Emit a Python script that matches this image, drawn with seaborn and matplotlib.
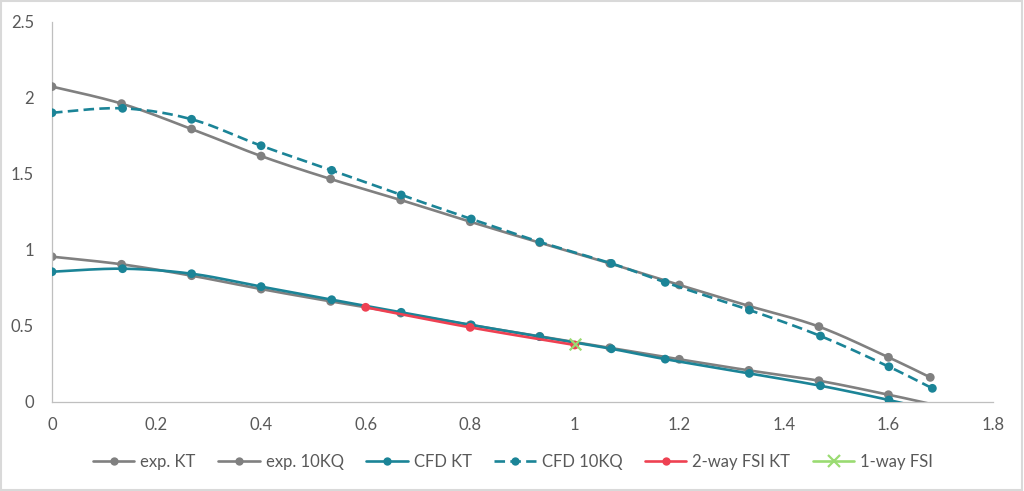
import numpy as np
import pandas as pd
import matplotlib
matplotlib.use("Agg")
import matplotlib.pyplot as plt
from matplotlib.lines import Line2D
from matplotlib.patches import Rectangle
import seaborn as sns

# ---- data ----
x_exp = [0, 0.133, 0.267, 0.4, 0.533, 0.667, 0.8, 0.933, 1.067, 1.2, 1.333, 1.467, 1.6, 1.68]
exp_kt = [0.956, 0.906, 0.831, 0.743, 0.662, 0.585, 0.507, 0.432, 0.357, 0.281, 0.208, 0.140, 0.048, -0.012]
exp_10kq = [2.075, 1.963, 1.796, 1.618, 1.467, 1.329, 1.186, 1.048, 0.912, 0.770, 0.632, 0.496, 0.294, 0.162]

x_cfd = [0, 0.135, 0.267, 0.4, 0.535, 0.668, 0.802, 0.933, 1.07, 1.173, 1.334, 1.47, 1.601, 1.684]
cfd_kt = [0.857, 0.877, 0.844, 0.759, 0.673, 0.590, 0.507, 0.430, 0.350, 0.282, 0.188, 0.107, 0.013, -0.055]
cfd_10kq = [1.903, 1.932, 1.860, 1.686, 1.524, 1.362, 1.204, 1.053, 0.912, 0.787, 0.605, 0.434, 0.232, 0.090]

x_fsi2 = [0.6, 0.8, 1.0]
fsi2_kt = [0.623, 0.491, 0.375]

x_fsi1 = [1.0]
fsi1_kt = [0.379]

x_ticks = [0, 0.2, 0.4, 0.6, 0.8, 1, 1.2, 1.4, 1.6, 1.8]
x_ticklabels = ["0", "0.2", "0.4", "0.6", "0.8", "1", "1.2", "1.4", "1.6", "1.8"]
y_ticks = [0, 0.5, 1, 1.5, 2, 2.5]
y_ticklabels = ["0", "0.5", "1", "1.5", "2", "2.5"]

GRAY = "#808080"
TEAL = "#1B8497"
RED = "#EE4152"
GREEN = "#9ADB72"
TXT = "#595959"


def excel_smooth(xs, ys, n=30):
    """Excel-like smoothed line: Catmull-Rom Bezier segments (tension 1/6)."""
    P = np.column_stack([xs, ys]).astype(float)
    m = len(P)
    if m < 2:
        return P[:, 0], P[:, 1]
    out = []
    t = np.linspace(0, 1, n)[:, None]
    for i in range(m - 1):
        p0 = P[i - 1] if i > 0 else P[i]
        p1 = P[i]
        p2 = P[i + 1]
        p3 = P[i + 2] if i + 2 < m else P[i + 1]
        c1 = p1 + (p2 - p0) / 6.0
        c2 = p2 - (p3 - p1) / 6.0
        seg = ((1 - t) ** 3) * p1 + 3 * ((1 - t) ** 2) * t * c1 + 3 * (1 - t) * t ** 2 * c2 + t ** 3 * p2
        out.append(seg if i == 0 else seg[1:])
    out = np.vstack(out)
    return out[:, 0], out[:, 1]


sns.set_theme(style="white")
plt.rcParams["font.family"] = ["Lato", "DejaVu Sans"]

fig = plt.figure(figsize=(10.24, 4.91), dpi=100)
ax = fig.add_axes([52 / 1024, 1 - 402 / 491, (993 - 52) / 1024, (402 - 22) / 491])

series = [
    ("exp. KT", x_exp, exp_kt, GRAY, "-", "o"),
    ("exp. 10KQ", x_exp, exp_10kq, GRAY, "-", "o"),
    ("CFD KT", x_cfd, cfd_kt, TEAL, "-", "o"),
    ("CFD 10KQ", x_cfd, cfd_10kq, TEAL, (0, (4, 2)), "o"),
    ("2-way FSI KT", x_fsi2, fsi2_kt, RED, "-", "o"),
    ("1-way FSI", x_fsi1, fsi1_kt, GREEN, "-", "x"),
]

LW = 1.9
handles = []
for k, (name, xs, ys, col, ls, mk) in enumerate(series):
    z = 2 + k
    if len(xs) > 1:
        sx, sy = excel_smooth(xs, ys)
        df = pd.DataFrame({"x": sx, "y": sy, "i": np.arange(len(sx))})
        sns.lineplot(data=df, x="x", y="y", sort=False, estimator=None, ax=ax,
                     color=col, linewidth=LW, linestyle=ls, zorder=z)
    pdf = pd.DataFrame({"x": xs, "y": ys})
    pdf = pdf[pdf["y"] >= 0]  # markers outside the plot range are not drawn
    if mk == "x":
        sns.scatterplot(data=pdf, x="x", y="y", ax=ax, marker="x", s=70,
                        color=col, linewidth=1.6, zorder=z + 0.5)
    else:
        sns.scatterplot(data=pdf, x="x", y="y", ax=ax, marker="o", s=40,
                        color=col, linewidth=0, edgecolor="none", zorder=z + 0.5)
    handles.append(Line2D([0], [0], color=col, linewidth=LW, linestyle=ls,
                          marker=mk, markersize=6 if mk == "o" else 8,
                          markeredgewidth=1.6 if mk == "x" else 0, label=name))

ax.set_xlim(0, 1.8)
ax.set_ylim(0, 2.5)
ax.set_xticks(x_ticks)
ax.set_xticklabels(x_ticklabels)
ax.set_yticks(y_ticks)
ax.set_yticklabels(y_ticklabels)
ax.set_xlabel("")
ax.set_ylabel("")
ax.tick_params(axis="both", length=0, labelsize=12, labelcolor=TXT)
ax.tick_params(axis="y", pad=13)
ax.tick_params(axis="x", pad=11)
ax.grid(False)
for s in ["top", "right"]:
    ax.spines[s].set_visible(False)
ax.spines["left"].set_color("#BFBFBF")
ax.spines["bottom"].set_color("#BFBFBF")
ax.spines["left"].set_linewidth(0.9)
ax.spines["bottom"].set_linewidth(0.9)

leg = fig.legend(handles=handles, loc="center", bbox_to_anchor=(513 / 1024, 1 - 462 / 491),
                 ncol=6, frameon=False, fontsize=12, handlelength=2.5,
                 handletextpad=0.35, columnspacing=1.35, labelcolor=TXT)

fig.patches.append(Rectangle((0.001, 0.002), 0.997, 0.995, transform=fig.transFigure,
                             fill=False, edgecolor="#D9D9D9", linewidth=1.5))

fig.savefig("out.png", dpi=100)
